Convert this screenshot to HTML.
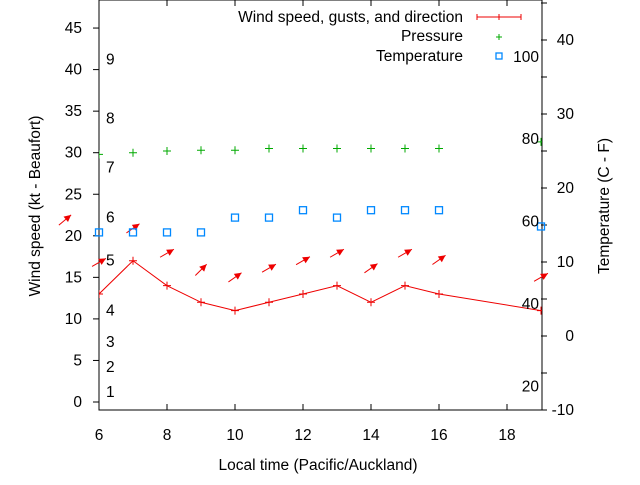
<!DOCTYPE html>
<html><head><meta charset="utf-8"><style>
body{margin:0;background:#fff}
svg{font-family:"Liberation Sans",sans-serif;font-size:15.5px}
</style></head><body>
<svg id="c" width="640" height="480">
<defs><clipPath id="pc"><rect x="99" y="2" width="443" height="408"/></clipPath></defs>
<g id="axes"></g>
<g id="marks" clip-path="url(#pc)"></g>
<g id="free"></g>
<g id="ov"></g>
</svg>
<script>
const hours=[6,7,8,9,10,11,12,13,14,15,16,19];
const windSpeed=[13,17,14,12,11,12,13,14,12,14,13,11];
const gustHours=[5,6,7,8,9,10,11,12,13,14,15,16,19];
const gusts=[21.9,16.8,20.9,17.9,15.9,15,16.1,17,17.9,16.1,17.9,17.1,15];
const dirs=[40,30,35,30,45,35,30,30,30,35,30,35,30];
const pressure=[29.8,30,30.2,30.3,30.3,30.5,30.5,30.5,30.5,30.5,30.5,31.3];
const temps=[14,14,14,14,16,16,17,16,17,17,17,14.8];
const xTicks=[6,8,10,12,14,16,18];
const yTicks=[0,5,10,15,20,25,30,35,40,45];
const y2Ticks=[-10,0,10,20,30,40];
const beaufort=[[1,1.2],[2,4.2],[3,7.2],[4,11],[5,17],[6,22.2],[7,28.2],[8,34.1],[9,41.2]];
const fahr=[[20,-6.8],[40,4.3],[60,15.5],[80,26.6],[100,37.7]];

const L=99,R=541,T=3,B=410;
const X=v=>L+(v-6)*34;
const Y=v=>402-v*8.31;
const Y2=v=>410-(v+10)*7.4;
const NS='http://www.w3.org/2000/svg';
function mk(p,t,a){const e=document.createElementNS(NS,t);for(const k in a)e.setAttribute(k,a[k]);p.appendChild(e);return e;}
const ax=document.getElementById('axes'),mg=document.getElementById('marks'),fg=document.getElementById('free'),ov=document.getElementById('ov');
const fr=mk(ax,'rect',{x:L,y:0,width:R-L+1,height:B,fill:'none',stroke:'#000','stroke-width':1});

xTicks.forEach(t=>{
 mk(ax,'line',{x1:X(t),x2:X(t),y1:B,y2:B-6,stroke:'#000'});
 mk(ax,'line',{x1:X(t),x2:X(t),y1:0,y2:6,stroke:'#000'});
 const e=mk(ax,'text',{x:X(t),y:B+30,'text-anchor':'middle'});e.textContent=t;
 
});
yTicks.forEach(t=>{
 mk(ax,'line',{x1:L,x2:L-6,y1:Y(t),y2:Y(t),stroke:'#000'});
 const e=mk(ax,'text',{x:L-17,y:Y(t)+5,'text-anchor':'end'});e.textContent=t;
 
});
y2Ticks.forEach(t=>{
 mk(ax,'line',{x1:R,x2:R+6,y1:Y2(t),y2:Y2(t),stroke:'#000'});
 mk(ax,'line',{x1:R,x2:R+6,y1:Y2(t+5),y2:Y2(t+5),stroke:'#000'});
 const e=mk(ax,'text',{x:R+33,y:Y2(t)+5,'text-anchor':'end'});e.textContent=t;
 
});
beaufort.forEach(b=>{const e=mk(ov,'text',{x:106,y:Y(b[1])+5});e.textContent=b[0];
 });
fahr.forEach(b=>{const e=mk(ov,'text',{x:539,y:Y2(b[1])+5,'text-anchor':'end'});e.textContent=b[0];
 });
const wl=mk(mg,'polyline',{points:hours.map((h,i)=>X(h)+','+Y(windSpeed[i])).join(' '),fill:'none',stroke:'#e00',"stroke-width":1});

hours.forEach((h,i)=>{const g=mk(mg,'path',{d:`M${X(h)-4},${Y(windSpeed[i])}h8M${X(h)},${Y(windSpeed[i])-4}v8`,stroke:'#e00'});
 });
gustHours.forEach((h,i)=>{
 const a=dirs[i]*Math.PI/180,cx=X(h),cy=Y(gusts[i]),l=8;
 const x1=cx-l*Math.cos(a),y1=cy+l*Math.sin(a),x2=cx+l*Math.cos(a),y2=cy-l*Math.sin(a);
 const g=mk(fg,'g',{});
 
 mk(g,'line',{x1,y1,x2,y2,stroke:'#e00'});
 const hx=x2-7*Math.cos(a),hy=y2+7*Math.sin(a),px=3.5*Math.sin(a),py=3.5*Math.cos(a);
 mk(g,'polygon',{points:`${x2},${y2} ${hx+px},${hy+py} ${hx-px},${hy-py}`,fill:'#e00'});
});
hours.forEach((h,i)=>{const g=mk(mg,'path',{d:`M${X(h)-4},${Y(pressure[i])}h8M${X(h)},${Y(pressure[i])-4}v8`,stroke:'#0a0'});
 });
hours.forEach((h,i)=>{const g=mk(fg,'rect',{x:X(h)-3.5,y:Y2(temps[i])-3.5,width:7,height:7,fill:'none',stroke:'#08f','stroke-width':1.3});
 });
const lg=mk(ov,'g',{});
[['Wind speed, gusts, and direction',22],['Pressure',41],['Temperature',61]].forEach(r=>{
 const e=mk(lg,'text',{x:463,y:r[1],'text-anchor':'end'});e.textContent=r[0];
 });
mk(lg,'path',{d:'M477,17h44M477,14v6M521,14v6M499,14v6',stroke:'#e00'});
mk(lg,'path',{d:'M496,37h6M499,34v6',stroke:'#0a0'});
mk(lg,'rect',{x:496,y:53,width:6,height:6,fill:'none',stroke:'#08f','stroke-width':1.3});
const yt=mk(ov,'text',{x:0,y:0,transform:'translate(40,206) rotate(-90)','text-anchor':'middle'});yt.textContent='Wind speed (kt - Beaufort)';

const y2t=mk(ov,'text',{x:0,y:0,transform:'translate(609,206) rotate(-90)','text-anchor':'middle'});y2t.textContent='Temperature (C - F)';

const xt=mk(ov,'text',{x:318,y:470,'text-anchor':'middle'});xt.textContent='Local time (Pacific/Auckland)';

</script>
</body></html>
